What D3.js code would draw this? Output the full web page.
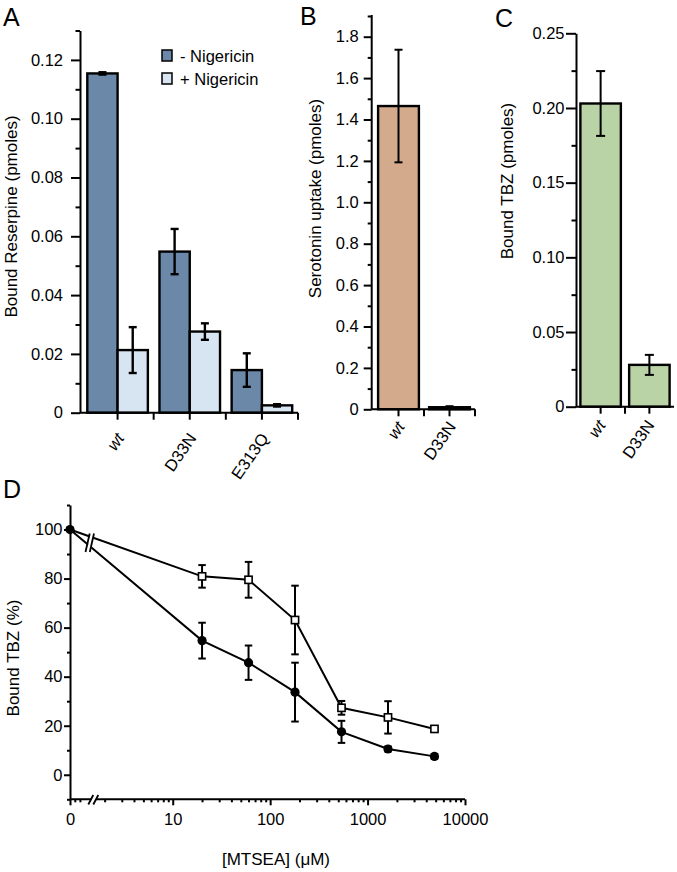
<!DOCTYPE html>
<html>
<head>
<meta charset="utf-8">
<script src="https://cdn.jsdelivr.net/npm/d3@7"></script>
<style>
  html, body { margin: 0; padding: 0; background: #fff; }
  svg { display: block; font-family: "Liberation Sans", Arial, Helvetica, sans-serif; }
</style>
</head>
<body>
<svg id="chart" width="677" height="872"></svg>
<script>
// ---------- DATA ----------
// Panel A
const groupsA = ["wt", "D33N", "E313Q"];
const seriesA = ["- Nigericin", "+ Nigericin"];
const minusNig = [0.1154, 0.0548, 0.0145];
const minusNigErr = [0.0004, 0.0077, 0.0057];
const plusNig = [0.0213, 0.0276, 0.0025];
const plusNigErr = [0.0078, 0.0028, 0.0004];
const ticksA = [0, 0.02, 0.04, 0.06, 0.08, 0.10, 0.12];
const minorA = [0.01, 0.03, 0.05, 0.07, 0.09, 0.11, 0.13];
// Panel B
const groupsB = ["wt", "D33N"];
const uptake = [1.465, 0.01];
const uptakeErr = [0.272, 0.005];
const ticksB = [0, 0.2, 0.4, 0.6, 0.8, 1.0, 1.2, 1.4, 1.6, 1.8];
const minorB = [0.1, 0.3, 0.5, 0.7, 0.9, 1.1, 1.3, 1.5, 1.7, 1.9];
// Panel C
const groupsC = ["wt", "D33N"];
const boundTBZ = [0.203, 0.028];
const boundTBZErr = [0.0217, 0.0067];
const ticksC = [0, 0.05, 0.10, 0.15, 0.20, 0.25];
const minorC = [0.025, 0.075, 0.125, 0.175, 0.225];
// Panel D
const mtsea = [20, 60, 180, 540, 1620, 4860];
const openVals = [80.9, 79.5, 63.1, 27.3, 23.4, 18.7];
const openErr = [4.6, 7.3, 14.0, 2.8, 6.6, 0.8];
const filledVals = [54.7, 45.7, 33.7, 17.5, 10.5, 7.5];
const filledErr = [7.3, 7.0, 12.0, 4.5, 1.0, 1.0];
const zeroVal = 100;
const ticksDy = [0, 20, 40, 60, 80, 100];
const minorDy = [-10, 10, 30, 50, 70, 90, 110];
const ticksDx = [10, 100, 1000, 10000];
const zeroSegTicks = [0.3, 0.62];

// ---------- STYLE ----------
const FONT = 16.5, TITLE = 17;
const darkBlue = "#6b88a9", lightBlue = "#d7e5f3", tan = "#d3aa8b", green = "#b9d3a6";
const svg = d3.select("#chart");

function styleAxis(g, w) {
  g.selectAll("path.domain").attr("stroke", "#000").attr("stroke-width", w);
  g.selectAll(".tick line").attr("stroke", "#000").attr("stroke-width", w);
  g.selectAll(".tick text").attr("fill", "#000").attr("font-size", FONT).attr("font-family", "Liberation Sans, Arial, sans-serif");
}
function fmtTick(f) { return d => d === 0 ? "0" : d3.format(f)(d); }
function panelLetter(t, x, y) {
  svg.append("text").attr("x", x).attr("y", y).attr("font-size", 25).text(t);
}
function yTitle(t, cx, cy) {
  svg.append("text").attr("transform", `translate(${cx},${cy}) rotate(-90)`)
    .attr("text-anchor", "middle").attr("dy", "0.32em").attr("font-size", TITLE).text(t);
}
function errBar(g, x, yTop, yBot, cap, w) {
  g.append("line").attr("x1", x).attr("x2", x).attr("y1", yTop).attr("y2", yBot).attr("stroke", "#000").attr("stroke-width", w);
  g.append("line").attr("x1", x - cap / 2).attr("x2", x + cap / 2).attr("y1", yTop).attr("y2", yTop).attr("stroke", "#000").attr("stroke-width", w);
  g.append("line").attr("x1", x - cap / 2).attr("x2", x + cap / 2).attr("y1", yBot).attr("y2", yBot).attr("stroke", "#000").attr("stroke-width", w);
}
function rotLabels(g, groups, x, y0, dx, dy) {
  groups.forEach(c => {
    const px = x(c) + x.bandwidth() / 2 + dx, py = y0 + dy;
    g.append("text").attr("transform", `translate(${px},${py}) rotate(-55)`)
      .attr("text-anchor", "end").attr("font-size", FONT)
      .attr("font-style", c === "wt" ? "italic" : "normal").text(c);
  });
}

// ---------- PANEL A ----------
(function () {
  const x0 = 80, yBase = 412.7;
  const y = d3.scaleLinear().domain([0, 0.13]).range([yBase, 30.5]);
  const x = d3.scaleBand().domain(groupsA).range([81.5, 298]).padding(0);
  const xs = d3.scaleBand().domain(seriesA).range([5.8, x.bandwidth() - 5.8]).padding(0);
  const g = svg.append("g");
  const vals = [minusNig, plusNig], errs = [minusNigErr, plusNigErr], cols = [darkBlue, lightBlue];
  groupsA.forEach((c, i) => {
    seriesA.forEach((s, j) => {
      g.append("rect").attr("x", x(c) + xs(s)).attr("y", y(vals[j][i]))
        .attr("width", xs.bandwidth()).attr("height", yBase - y(vals[j][i]))
        .attr("fill", cols[j]).attr("stroke", "#000").attr("stroke-width", 2.4);
    });
  });
  groupsA.forEach((c, i) => {
    seriesA.forEach((s, j) => {
      const cx = x(c) + xs(s) + xs.bandwidth() / 2;
      errBar(g, cx, y(vals[j][i] + errs[j][i]), y(vals[j][i] - errs[j][i]), 8, 2.4);
    });
  });
  const ay = g.append("g").attr("transform", `translate(${x0},0)`)
    .call(d3.axisLeft(y).tickValues(ticksA).tickSize(9).tickPadding(8).tickSizeOuter(0).tickFormat(fmtTick(".2f")));
  styleAxis(ay, 2);
  g.append("g").attr("transform", `translate(${x0},0)`)
    .call(d3.axisLeft(y).tickValues(minorA).tickSize(4.5).tickFormat("").tickSizeOuter(0))
    .call(a => a.select("path.domain").remove())
    .call(a => styleAxis(a, 2));
  const ax = g.append("g").attr("transform", `translate(0,${yBase})`)
    .call(d3.axisBottom(x).tickSize(7).tickFormat("").tickSizeOuter(0));
  ax.select("path.domain").attr("d", `M${x0},0H298`);
  styleAxis(ax, 2);
  g.append("g").attr("transform", `translate(0,${yBase})`)
    .selectAll("line").data(groupsA).join("line")
    .attr("x1", c => x(c) + x.bandwidth()).attr("x2", c => x(c) + x.bandwidth())
    .attr("y1", 0).attr("y2", 7).attr("stroke", "#000").attr("stroke-width", 2);
  rotLabels(g, groupsA, x, yBase, 7.4, 25.6);
  seriesA.forEach((s, j) => {
    const ly = 50 + j * 23;
    g.append("rect").attr("x", 162).attr("y", ly).attr("width", 10).attr("height", 11)
      .attr("fill", cols[j]).attr("stroke", "#000").attr("stroke-width", 1.5);
    g.append("text").attr("x", 180).attr("y", ly + 11.5).attr("font-size", FONT).text(s);
  });
  yTitle("Bound Reserpine (pmoles)", 11.5, 216.5);
  panelLetter("A", 3, 26);
})();

// ---------- PANEL B ----------
(function () {
  const x0 = 371.7, yBase = 409.3;
  const y = d3.scaleLinear().domain([0, 1.9]).range([yBase, 16]);
  const x = d3.scaleBand().domain(groupsB).range([373, 475]).paddingInner(0.2).paddingOuter(0.1);
  const g = svg.append("g");
  groupsB.forEach((c, i) => {
    g.append("rect").attr("x", x(c)).attr("y", y(uptake[i])).attr("width", x.bandwidth())
      .attr("height", yBase - y(uptake[i])).attr("fill", tan).attr("stroke", "#000").attr("stroke-width", 2.4);
  });
  groupsB.forEach((c, i) => {
    errBar(g, x(c) + x.bandwidth() / 2, y(uptake[i] + uptakeErr[i]), y(uptake[i] - uptakeErr[i]), 8, 2);
  });
  const ay = g.append("g").attr("transform", `translate(${x0},0)`)
    .call(d3.axisLeft(y).tickValues(ticksB).tickSize(8).tickPadding(5).tickSizeOuter(0).tickFormat(fmtTick(".1f")));
  ay.select("path.domain").attr("d", `M0,${y(0)}V15`);
  styleAxis(ay, 2);
  g.append("g").attr("transform", `translate(${x0},0)`)
    .call(d3.axisLeft(y).tickValues(minorB).tickSize(4).tickFormat("").tickSizeOuter(0))
    .call(a => a.select("path.domain").remove())
    .call(a => styleAxis(a, 2));
  const ax = g.append("g").attr("transform", `translate(0,${yBase})`)
    .call(d3.axisBottom(x).tickSize(7).tickFormat("").tickSizeOuter(0));
  ax.select("path.domain").attr("d", `M${x0},0H475`);
  styleAxis(ax, 2);
  const step = x.step();
  g.append("g").attr("transform", `translate(0,${yBase})`)
    .selectAll("line").data(groupsB).join("line")
    .attr("x1", c => x(c) + x.bandwidth() / 2 + step / 2).attr("x2", c => x(c) + x.bandwidth() / 2 + step / 2)
    .attr("y1", 0).attr("y2", 7).attr("stroke", "#000").attr("stroke-width", 2);
  rotLabels(g, groupsB, x, yBase, 7, 17.5);
  yTitle("Serotonin uptake (pmoles)", 316, 198.5);
  panelLetter("B", 300, 25);
})();

// ---------- PANEL C ----------
(function () {
  const x0 = 576, yBase = 406.7;
  const y = d3.scaleLinear().domain([0, 0.25]).range([yBase, 33.3]);
  const x = d3.scaleBand().domain(groupsC).range([576, 674]).paddingInner(0.17).paddingOuter(0.09);
  const g = svg.append("g");
  groupsC.forEach((c, i) => {
    g.append("rect").attr("x", x(c)).attr("y", y(boundTBZ[i])).attr("width", x.bandwidth())
      .attr("height", yBase - y(boundTBZ[i])).attr("fill", green).attr("stroke", "#000").attr("stroke-width", 2.4);
  });
  groupsC.forEach((c, i) => {
    errBar(g, x(c) + x.bandwidth() / 2, y(boundTBZ[i] + boundTBZErr[i]), y(boundTBZ[i] - boundTBZErr[i]), 9, 2);
  });
  const ay = g.append("g").attr("transform", `translate(${x0},0)`)
    .call(d3.axisLeft(y).tickValues(ticksC).tickSize(10).tickPadding(1.5).tickSizeOuter(0).tickFormat(fmtTick(".2f")));
  styleAxis(ay, 2);
  g.append("g").attr("transform", `translate(${x0},0)`)
    .call(d3.axisLeft(y).tickValues(minorC).tickSize(4.5).tickFormat("").tickSizeOuter(0))
    .call(a => a.select("path.domain").remove())
    .call(a => styleAxis(a, 2));
  const ax = g.append("g").attr("transform", `translate(0,${yBase})`)
    .call(d3.axisBottom(x).tickSize(7).tickFormat("").tickSizeOuter(0));
  ax.select("path.domain").attr("d", `M${x0},0H674`);
  styleAxis(ax, 2);
  const step = x.step();
  g.append("g").attr("transform", `translate(0,${yBase})`)
    .selectAll("line").data([groupsC[0]]).join("line")
    .attr("x1", c => x(c) + x.bandwidth() / 2 + step / 2).attr("x2", c => x(c) + x.bandwidth() / 2 + step / 2)
    .attr("y1", 0).attr("y2", 7).attr("stroke", "#000").attr("stroke-width", 2);
  rotLabels(g, groupsC, x, yBase, 5.7, 18.5);
  yTitle("Bound TBZ (pmoles)", 508, 181);
  panelLetter("C", 495, 26.5);
})();

// ---------- PANEL D ----------
(function () {
  const x0 = 70, yAxisY = 799.3;
  const y = d3.scaleLinear().domain([-10, 110]).range([yAxisY, 505]);
  const x = d3.scaleLog().domain([1, 10000]).range([75.3, 465]);
  const xz = d3.scaleLinear().domain([0, 1]).range([70, 86]);
  const g = svg.append("g");
  const px = d => d === 0 ? xz(0) : x(d);

  const ay = g.append("g").attr("transform", `translate(${x0},0)`)
    .call(d3.axisLeft(y).tickValues(ticksDy).tickSize(6).tickPadding(1.5).tickSizeOuter(0));
  styleAxis(ay, 2);
  g.append("g").attr("transform", `translate(${x0},0)`)
    .call(d3.axisLeft(y).tickValues(minorDy).tickSize(3).tickFormat("").tickSizeOuter(0))
    .call(a => a.select("path.domain").remove())
    .call(a => styleAxis(a, 2));
  g.append("line").attr("x1", x0).attr("x2", 465).attr("y1", yAxisY).attr("y2", yAxisY)
    .attr("stroke", "#000").attr("stroke-width", 2);
  const axl = g.append("g").attr("transform", `translate(0,${yAxisY})`)
    .call(d3.axisBottom(x).tickValues(ticksDx).tickSize(6).tickPadding(8).tickFormat(d3.format("d")));
  axl.select("path.domain").remove();
  styleAxis(axl, 2);
  const minorX = [];
  for (let e = 0; e < 4; e++) for (let k = 2; k <= 9; k++) minorX.push(k * Math.pow(10, e));
  g.append("g").attr("transform", `translate(0,${yAxisY})`)
    .call(d3.axisBottom(x).tickValues(minorX.filter(v => x(v) > 100)).tickSize(3).tickFormat(""))
    .call(a => a.select("path.domain").remove())
    .call(a => styleAxis(a, 2));
  const axz = g.append("g").attr("transform", `translate(0,${yAxisY})`)
    .call(d3.axisBottom(xz).tickValues([0]).tickSize(6).tickPadding(8).tickFormat(d3.format("d")));
  axz.select("path.domain").remove();
  styleAxis(axz, 2);
  g.append("g").attr("transform", `translate(0,${yAxisY})`)
    .call(d3.axisBottom(xz).tickValues(zeroSegTicks).tickSize(3).tickFormat(""))
    .call(a => a.select("path.domain").remove())
    .call(a => styleAxis(a, 2));
  g.append("polygon").attr("points", `88.5,805 93.5,795 98,795 93,805`).attr("fill", "#fff");
  [[88.3, 93.3], [93.3, 98.3]].forEach(([a, b]) => {
    g.append("line").attr("x1", a).attr("y1", 804.5).attr("x2", b).attr("y2", 795)
      .attr("stroke", "#000").attr("stroke-width", 1.8);
  });

  const openPts = [{ c: 0, v: zeroVal, e: 0 }].concat(mtsea.map((c, i) => ({ c, v: openVals[i], e: openErr[i] })));
  const fillPts = [{ c: 0, v: zeroVal, e: 0 }].concat(mtsea.map((c, i) => ({ c, v: filledVals[i], e: filledErr[i] })));
  const line = d3.line().x(d => px(d.c)).y(d => y(d.v));
  [openPts, fillPts].forEach(pts => {
    g.append("path").attr("d", line(pts)).attr("fill", "none").attr("stroke", "#000").attr("stroke-width", 2);
  });
  g.append("polygon").attr("points", `86.5,552 90.7,533 94.5,533 90.3,552`).attr("fill", "#fff");
  [[85.5, 89.7], [89.8, 94]].forEach(([a, b]) => {
    g.append("line").attr("x1", a).attr("y1", 552).attr("x2", b).attr("y2", 533.5)
      .attr("stroke", "#000").attr("stroke-width", 1.8);
  });
  [openPts, fillPts].forEach(pts => {
    pts.filter(d => d.c > 0).forEach(d => {
      errBar(g, px(d.c), y(d.v + d.e), y(d.v - d.e), 7.5, 2);
    });
  });
  g.selectAll("circle.f").data(fillPts).join("circle").attr("class", "f")
    .attr("cx", d => px(d.c)).attr("cy", d => y(d.v)).attr("r", 4.6).attr("fill", "#000");
  g.selectAll("rect.o").data(openPts.filter(d => d.c > 0)).join("rect").attr("class", "o")
    .attr("x", d => px(d.c) - 3.6).attr("y", d => y(d.v) - 3.6).attr("width", 7.2).attr("height", 7.2)
    .attr("fill", "#fff").attr("stroke", "#000").attr("stroke-width", 1.6);

  yTitle("Bound TBZ (%)", 14, 658);
  svg.append("text").attr("x", 276).attr("y", 865).attr("text-anchor", "middle")
    .attr("font-size", TITLE).text("[MTSEA] (\u03BCM)");
  panelLetter("D", 3, 498);
})();
</script>
</body>
</html>
